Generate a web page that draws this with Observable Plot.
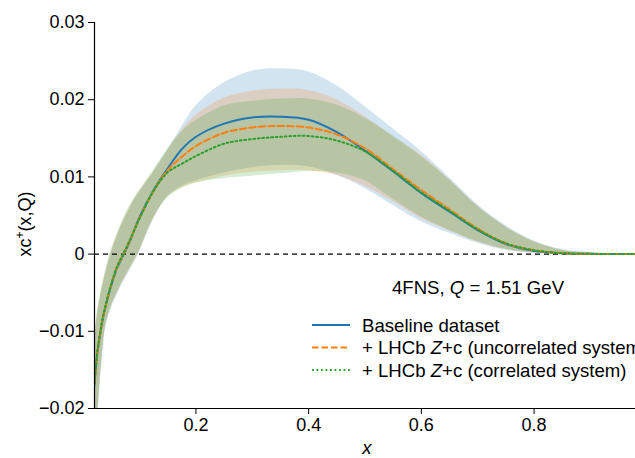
<!DOCTYPE html>
<html>
<head>
<meta charset="utf-8">
<script src="https://cdn.jsdelivr.net/npm/d3@7"></script>
<script src="https://cdn.jsdelivr.net/npm/@observablehq/plot@0.6"></script>
<style>
  html, body { margin: 0; padding: 0; background: #fff; }
  #chart svg { display: block; overflow: hidden; }
</style>
</head>
<body>
<div id="chart"></div>
<script>
// x grid
const xs = [0.02, 0.025, 0.03, 0.035, 0.04, 0.05, 0.06, 0.07, 0.08, 0.09, 0.10, 0.125, 0.15, 0.175, 0.20, 0.25, 0.30, 0.35, 0.40, 0.45, 0.50, 0.55, 0.60, 0.65, 0.70, 0.75, 0.80, 0.85, 0.90, 0.95, 0.98];

// Baseline dataset (blue)
const baseCentral = [-0.0170, -0.0128, -0.0104, -0.0083, -0.0067, -0.0040, -0.0018, -0.0003, 0.0012, 0.0030, 0.0048, 0.0083, 0.0111, 0.0136, 0.0152, 0.0169, 0.0177, 0.0178, 0.0174, 0.0158, 0.0134, 0.0107, 0.0079, 0.0055, 0.0031, 0.0013, 0.0004, 0.00012, 0.00003, 0, 0];
const baseUpper   = [-0.0112, -0.0080, -0.0058, -0.0040, -0.0025, 0.0002, 0.0022, 0.0040, 0.0055, 0.0069, 0.0080, 0.0106, 0.0135, 0.0165, 0.0192, 0.0222, 0.0237, 0.0240, 0.0236, 0.0218, 0.0191, 0.0162, 0.0133, 0.0099, 0.0064, 0.0037, 0.0017, 0.0006, 0.0002, 0, 0];
const baseLower   = [-0.0270, -0.0220, -0.0170, -0.0125, -0.0095, -0.0070, -0.0053, -0.0038, -0.0025, -0.0012, 0.0003, 0.0045, 0.0075, 0.0088, 0.0095, 0.0105, 0.0112, 0.0115, 0.0113, 0.0102, 0.0085, 0.0063, 0.0042, 0.0027, 0.0014, 0.0005, 0.0001, 0, 0, 0, 0];

// + LHCb Z+c (uncorrelated systematics) (orange)
const uncCentral = [-0.0168, -0.0127, -0.0103, -0.0082, -0.0066, -0.0039, -0.0017, -0.0002, 0.0013, 0.0030, 0.0047, 0.0082, 0.0109, 0.0126, 0.0140, 0.0157, 0.0164, 0.0166, 0.0164, 0.0155, 0.0137, 0.0110, 0.0083, 0.0058, 0.0033, 0.0014, 0.0005, 0.00012, 0.00003, 0, 0];
const uncUpper   = [-0.0110, -0.0078, -0.0056, -0.0038, -0.0023, 0.0004, 0.0024, 0.0042, 0.0057, 0.0070, 0.0081, 0.0107, 0.0134, 0.0160, 0.0180, 0.0202, 0.0211, 0.0214, 0.0212, 0.0200, 0.0178, 0.0152, 0.0128, 0.0096, 0.0062, 0.0035, 0.0016, 0.0005, 0.0001, 0, 0];
const uncLower   = [-0.0265, -0.0215, -0.0165, -0.0122, -0.0093, -0.0068, -0.0051, -0.0036, -0.0023, -0.0010, 0.0004, 0.0046, 0.0074, 0.0086, 0.0092, 0.0101, 0.0106, 0.0108, 0.0108, 0.0102, 0.0088, 0.0068, 0.0046, 0.0030, 0.0016, 0.0006, 0.0001, 0, 0, 0, 0];

// + LHCb Z+c (correlated systematics) (green)
const corCentral = [-0.0167, -0.0126, -0.0102, -0.0081, -0.0065, -0.0038, -0.0016, -0.0001, 0.0014, 0.0030, 0.0046, 0.0082, 0.0106, 0.0117, 0.0127, 0.0143, 0.0149, 0.0152, 0.0153, 0.0147, 0.0133, 0.0108, 0.0080, 0.0056, 0.0032, 0.0014, 0.0005, 0.00012, 0.00003, 0, 0];
const corUpper   = [-0.0108, -0.0076, -0.0054, -0.0036, -0.0021, 0.0006, 0.0026, 0.0044, 0.0059, 0.0072, 0.0083, 0.0109, 0.0136, 0.0158, 0.0173, 0.0192, 0.0198, 0.0201, 0.0201, 0.0193, 0.0176, 0.0153, 0.0126, 0.0096, 0.0062, 0.0035, 0.0016, 0.0005, 0.0001, 0, 0];
const corLower   = [-0.0262, -0.0212, -0.0163, -0.0120, -0.0092, -0.0067, -0.0050, -0.0035, -0.0022, -0.0009, 0.0005, 0.0047, 0.0073, 0.0085, 0.0092, 0.0098, 0.0101, 0.0104, 0.0107, 0.0105, 0.0095, 0.0071, 0.0048, 0.0031, 0.0016, 0.0006, 0.0002, 0, 0, 0, 0];

const seriesNames = ["Baseline dataset", "+ LHCb Z+c (uncorrelated systematics)", "+ LHCb Z+c (correlated system)"];
const seriesColors = ["#1f77b4", "#ff7f0e", "#2ca02c"];
const xTicks = [0.2, 0.4, 0.6, 0.8];
const yTicks = [-0.02, -0.01, 0, 0.01, 0.02, 0.03];

const centrals = [baseCentral, uncCentral, corCentral];
const uppers = [baseUpper, uncUpper, corUpper];
const lowers = [baseLower, uncLower, corLower];
const rows = [];
seriesNames.forEach((s, i) => xs.forEach((x, j) => rows.push({series: s, x, y: centrals[i][j], hi: uppers[i][j], lo: lowers[i][j]})));
const bySeries = s => rows.filter(r => r.series === s);

const fmtY = d => d === 0 ? "0" : (d < 0 ? "\u2212" : "") + Math.abs(d).toFixed(2);
const dashes = [null, "6.5,3", "1.8,2.7"];

const marks = [];
seriesNames.forEach((s, i) => {
  marks.push(Plot.areaY(bySeries(s), {x: "x", y1: "lo", y2: "hi", fill: seriesColors[i], fillOpacity: 0.2, curve: "catmull-rom", clip: true}));
});
marks.push(Plot.ruleY([0], {stroke: "black", strokeWidth: 1.2, strokeDasharray: "5,4"}));
seriesNames.forEach((s, i) => {
  marks.push(Plot.line(bySeries(s), {x: "x", y: "y", stroke: seriesColors[i], strokeWidth: 2, strokeDasharray: dashes[i], curve: "catmull-rom", clip: true}));
});
marks.push(Plot.ruleX([0.02], {stroke: "black", strokeWidth: 1.2}));
marks.push(Plot.ruleY([-0.02], {stroke: "black", strokeWidth: 1.2}));
marks.push(Plot.axisX({ticks: xTicks, tickFormat: d => d.toFixed(1), tickSize: 6, tickPadding: 4, label: null, stroke: "black", color: "black"}));
marks.push(Plot.axisY({ticks: yTicks, tickFormat: fmtY, tickSize: 6, tickPadding: 4, label: null, stroke: "black", color: "black"}));

const chart = Plot.plot({
  width: 635,
  height: 458,
  marginLeft: 94,
  marginRight: 0,
  marginTop: 22,
  marginBottom: 50,
  style: {fontFamily: "'Liberation Sans', Arial, sans-serif", fontSize: "18px", color: "black", background: "white"},
  x: {domain: [0.02, 0.98]},
  y: {domain: [-0.02, 0.03]},
  marks
});
document.getElementById("chart").appendChild(chart);

// annotations, labels, legend
const svg = d3.select(chart);
const g = svg.append("g")
  .attr("font-family", "'Liberation Sans', Arial, sans-serif")
  .attr("font-size", 18.6).attr("fill", "black").attr("text-anchor", "start");

g.append("text").attr("x", 367).attr("y", 454).attr("text-anchor", "middle").attr("font-style", "italic").text("x");

const yl = g.append("text").attr("transform", "translate(31,224) rotate(-90)").attr("text-anchor", "middle").attr("font-size", 18);
yl.append("tspan").text("xc");
yl.append("tspan").attr("dy", -7).attr("font-size", 12).text("+");
yl.append("tspan").attr("dy", 7).text("(x,Q)");

const ann = g.append("text").attr("x", 478).attr("y", 294).attr("text-anchor", "middle");
ann.append("tspan").text("4FNS, ");
ann.append("tspan").attr("font-style", "italic").text("Q");
ann.append("tspan").text(" = 1.51 GeV");

const legendY = [325, 347.5, 370];
seriesNames.forEach((s, i) => {
  g.append("line").attr("x1", 312).attr("x2", 350).attr("y1", legendY[i]).attr("y2", legendY[i])
    .attr("stroke", seriesColors[i]).attr("stroke-width", 2).attr("stroke-dasharray", dashes[i]);
  const t = g.append("text").attr("x", 362).attr("y", legendY[i] + 6.5).attr("text-anchor", "start");
  if (i === 0) t.text(s);
  else {
    const parts = s.split("Z");
    t.append("tspan").text(parts[0]);
    t.append("tspan").attr("font-style", "italic").text("Z");
    t.append("tspan").text(parts[1]);
  }
});
</script>
</body>
</html>
